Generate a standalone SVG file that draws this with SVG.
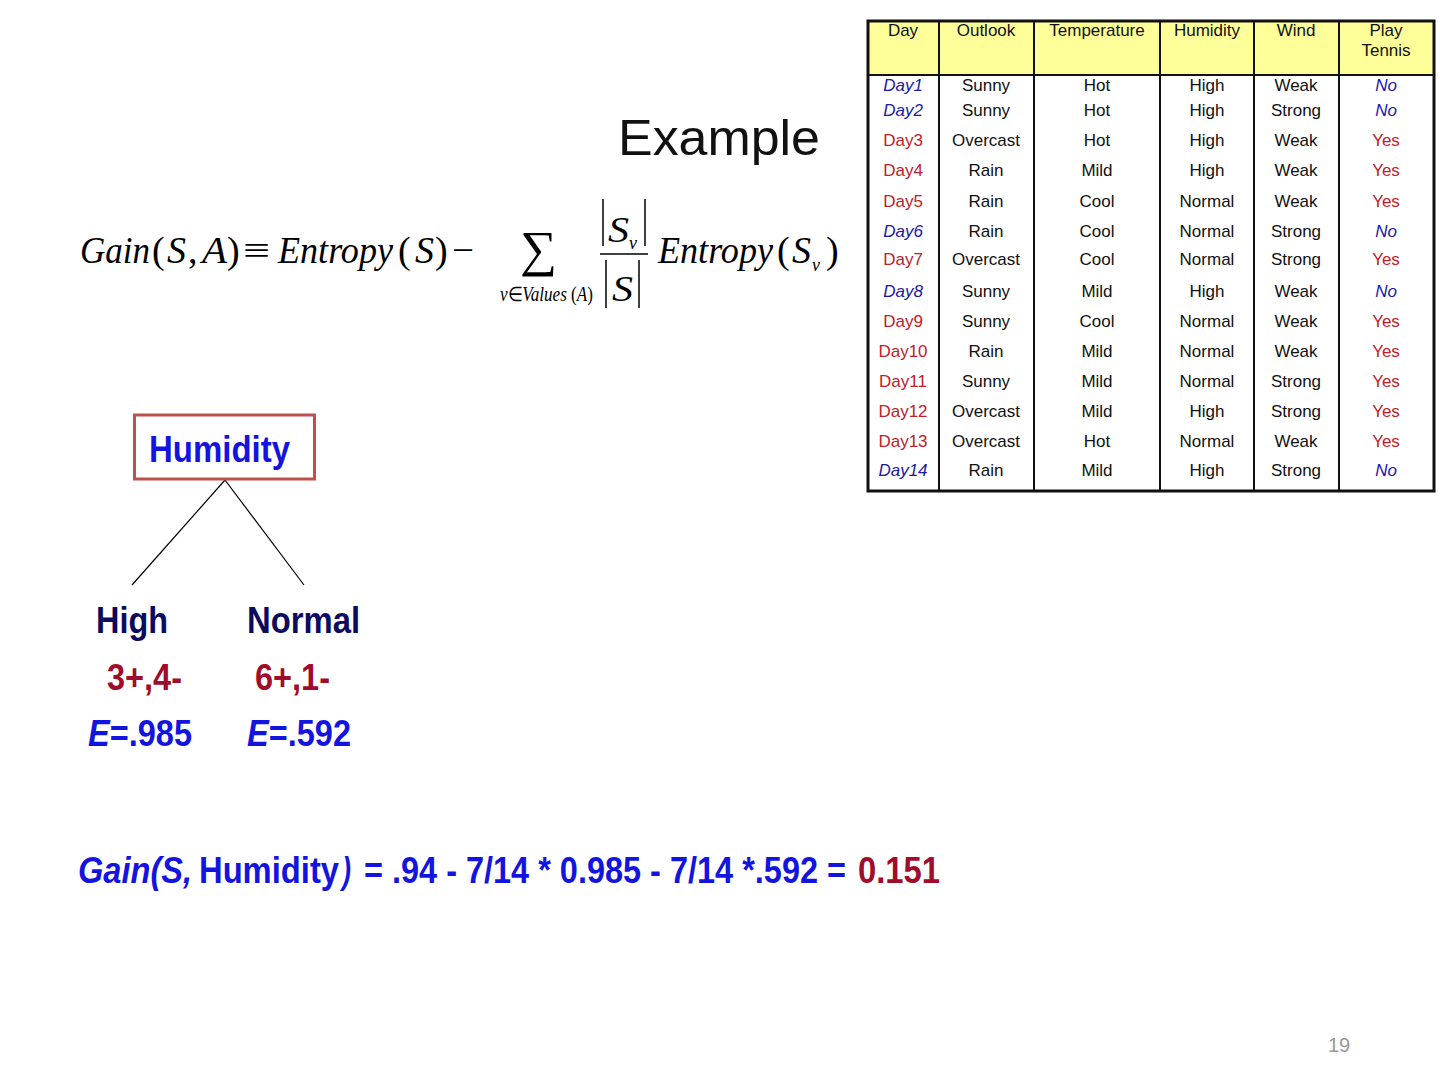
<svg xmlns="http://www.w3.org/2000/svg" width="1440" height="1080" viewBox="0 0 1440 1080">
<style>
.t{font-family:"Liberation Sans",Arial,sans-serif;font-size:17px;fill:#111;text-anchor:middle}
.r{fill:#c0202a}
.b{fill:#1a1aa8;font-style:italic}
.m{font-family:"Liberation Serif","Times New Roman",serif;fill:#000}
.i{font-style:italic}
.tr{font-family:"Liberation Sans",Arial,sans-serif;font-weight:bold}
.grid{stroke:#111;stroke-width:2;fill:none}
.bar{stroke:#000;stroke-width:1.5}
</style>
<rect width="1440" height="1080" fill="#fff"/>
<g id="title"><text x="618" y="155" font-family="Liberation Sans,Arial,sans-serif" font-size="50" fill="#111" textLength="202" lengthAdjust="spacingAndGlyphs">Example</text></g>

<g id="table">
<rect x="868" y="21" width="566" height="54" fill="#ffff99"/>
<rect x="868" y="21" width="566" height="470" fill="none" stroke="#111" stroke-width="3"/>
<g class="grid">
<line x1="868" y1="75" x2="1434" y2="75"/>
<line x1="939" y1="21" x2="939" y2="491"/>
<line x1="1034" y1="21" x2="1034" y2="491"/>
<line x1="1160" y1="21" x2="1160" y2="491"/>
<line x1="1254" y1="21" x2="1254" y2="491"/>
<line x1="1339" y1="21" x2="1339" y2="491"/>
</g>
<g class="t">
<text x="903" y="36">Day</text><text x="986" y="36">Outlook</text><text x="1097" y="36">Temperature</text><text x="1207" y="36">Humidity</text><text x="1296" y="36">Wind</text><text x="1386" y="36">Play</text><text x="1386" y="56">Tennis</text>
<text x="903" y="91" class="b">Day1</text><text x="986" y="91">Sunny</text><text x="1097" y="91">Hot</text><text x="1207" y="91">High</text><text x="1296" y="91">Weak</text><text x="1386" y="91" class="b">No</text>
<text x="903" y="116" class="b">Day2</text><text x="986" y="116">Sunny</text><text x="1097" y="116">Hot</text><text x="1207" y="116">High</text><text x="1296" y="116">Strong</text><text x="1386" y="116" class="b">No</text>
<text x="903" y="146" class="r">Day3</text><text x="986" y="146">Overcast</text><text x="1097" y="146">Hot</text><text x="1207" y="146">High</text><text x="1296" y="146">Weak</text><text x="1386" y="146" class="r">Yes</text>
<text x="903" y="176" class="r">Day4</text><text x="986" y="176">Rain</text><text x="1097" y="176">Mild</text><text x="1207" y="176">High</text><text x="1296" y="176">Weak</text><text x="1386" y="176" class="r">Yes</text>
<text x="903" y="207" class="r">Day5</text><text x="986" y="207">Rain</text><text x="1097" y="207">Cool</text><text x="1207" y="207">Normal</text><text x="1296" y="207">Weak</text><text x="1386" y="207" class="r">Yes</text>
<text x="903" y="237" class="b">Day6</text><text x="986" y="237">Rain</text><text x="1097" y="237">Cool</text><text x="1207" y="237">Normal</text><text x="1296" y="237">Strong</text><text x="1386" y="237" class="b">No</text>
<text x="903" y="265" class="r">Day7</text><text x="986" y="265">Overcast</text><text x="1097" y="265">Cool</text><text x="1207" y="265">Normal</text><text x="1296" y="265">Strong</text><text x="1386" y="265" class="r">Yes</text>
<text x="903" y="297" class="b">Day8</text><text x="986" y="297">Sunny</text><text x="1097" y="297">Mild</text><text x="1207" y="297">High</text><text x="1296" y="297">Weak</text><text x="1386" y="297" class="b">No</text>
<text x="903" y="327" class="r">Day9</text><text x="986" y="327">Sunny</text><text x="1097" y="327">Cool</text><text x="1207" y="327">Normal</text><text x="1296" y="327">Weak</text><text x="1386" y="327" class="r">Yes</text>
<text x="903" y="357" class="r">Day10</text><text x="986" y="357">Rain</text><text x="1097" y="357">Mild</text><text x="1207" y="357">Normal</text><text x="1296" y="357">Weak</text><text x="1386" y="357" class="r">Yes</text>
<text x="903" y="387" class="r">Day11</text><text x="986" y="387">Sunny</text><text x="1097" y="387">Mild</text><text x="1207" y="387">Normal</text><text x="1296" y="387">Strong</text><text x="1386" y="387" class="r">Yes</text>
<text x="903" y="417" class="r">Day12</text><text x="986" y="417">Overcast</text><text x="1097" y="417">Mild</text><text x="1207" y="417">High</text><text x="1296" y="417">Strong</text><text x="1386" y="417" class="r">Yes</text>
<text x="903" y="447" class="r">Day13</text><text x="986" y="447">Overcast</text><text x="1097" y="447">Hot</text><text x="1207" y="447">Normal</text><text x="1296" y="447">Weak</text><text x="1386" y="447" class="r">Yes</text>
<text x="903" y="476" class="b">Day14</text><text x="986" y="476">Rain</text><text x="1097" y="476">Mild</text><text x="1207" y="476">High</text><text x="1296" y="476">Strong</text><text x="1386" y="476" class="b">No</text>
</g>
</g>

<g id="formula" class="m" font-size="38">
<text x="80" y="263" class="i" textLength="70" lengthAdjust="spacingAndGlyphs">Gain</text>
<text x="152" y="263">(</text>
<text x="167" y="263" class="i" textLength="19" lengthAdjust="spacingAndGlyphs">S</text>
<text x="188" y="263">,</text>
<text x="202" y="263" class="i" textLength="25" lengthAdjust="spacingAndGlyphs">A</text>
<text x="227" y="263">)</text>
<text x="243" y="263" textLength="27" lengthAdjust="spacingAndGlyphs">≡</text>
<text x="278" y="263" class="i" textLength="115" lengthAdjust="spacingAndGlyphs">Entropy</text>
<text x="398" y="263">(</text>
<text x="415" y="263" class="i" textLength="19" lengthAdjust="spacingAndGlyphs">S</text>
<text x="435" y="263">)</text>
<text x="452" y="263" textLength="22" lengthAdjust="spacingAndGlyphs">−</text>
<text x="520" y="266" font-size="50" textLength="37" lengthAdjust="spacingAndGlyphs">∑</text>
<text x="500" y="301" font-size="20" textLength="93" lengthAdjust="spacingAndGlyphs"><tspan class="i">v</tspan>∈<tspan class="i">Values</tspan> (<tspan class="i">A</tspan>)</text>
<line class="bar" x1="603" y1="199" x2="603" y2="246"/>
<line class="bar" x1="645" y1="199" x2="645" y2="246"/>
<text x="608" y="242" font-size="36" class="i" textLength="21" lengthAdjust="spacingAndGlyphs">S</text>
<text x="629" y="249" font-size="18" class="i">v</text>
<line class="bar" x1="600" y1="254" x2="648" y2="254"/>
<line class="bar" x1="606" y1="260" x2="606" y2="308"/>
<line class="bar" x1="639" y1="260" x2="639" y2="308"/>
<text x="612" y="301" font-size="36" class="i" textLength="21" lengthAdjust="spacingAndGlyphs">S</text>
<text x="658" y="263" class="i" textLength="115" lengthAdjust="spacingAndGlyphs">Entropy</text>
<text x="777" y="263">(</text>
<text x="792" y="263" class="i" textLength="19" lengthAdjust="spacingAndGlyphs">S</text>
<text x="812" y="271" font-size="18" class="i">v</text>
<text x="826" y="263">)</text>
</g>

<g id="connectors" stroke="#000" stroke-width="1.2">
<line x1="225" y1="480" x2="132" y2="585"/>
<line x1="225" y1="480" x2="304" y2="585"/>
</g>

<g id="node-humidity">
<rect x="134.5" y="415" width="180" height="64" fill="#fff" stroke="#c0504d" stroke-width="3"/>
<text x="149" y="462" class="tr" font-size="36" fill="#1414e0" textLength="141" lengthAdjust="spacingAndGlyphs">Humidity</text>
</g>
<g id="node-high" class="tr" font-size="37">
<text x="96" y="633" fill="#0c0c5e" textLength="72" lengthAdjust="spacingAndGlyphs">High</text>
<text x="107" y="690" fill="#a00c2a" textLength="75" lengthAdjust="spacingAndGlyphs">3+,4-</text>
<text x="88" y="746" fill="#1414e0" textLength="104" lengthAdjust="spacingAndGlyphs"><tspan font-style="italic">E</tspan>=.985</text>
</g>
<g id="node-normal" class="tr" font-size="37">
<text x="247" y="633" fill="#0c0c5e" textLength="113" lengthAdjust="spacingAndGlyphs">Normal</text>
<text x="255" y="690" fill="#a00c2a" textLength="75" lengthAdjust="spacingAndGlyphs">6+,1-</text>
<text x="247" y="746" fill="#1414e0" textLength="104" lengthAdjust="spacingAndGlyphs"><tspan font-style="italic">E</tspan>=.592</text>
</g>

<g id="gain" class="tr" font-size="36" fill="#1414e0">
<text x="78" y="883" font-style="italic" textLength="114" lengthAdjust="spacingAndGlyphs">Gain(S,</text>
<text x="199" y="883" textLength="140" lengthAdjust="spacingAndGlyphs">Humidity</text>
<text x="342" y="883" font-style="italic" textLength="9" lengthAdjust="spacingAndGlyphs">)</text>
<text x="364" y="883" textLength="482" lengthAdjust="spacingAndGlyphs">= .94 - 7/14 * 0.985 - 7/14 *.592 =</text>
<text x="858" y="883" fill="#a00c2a" textLength="82" lengthAdjust="spacingAndGlyphs">0.151</text>
</g>

<text x="1339" y="1052" font-family="Liberation Sans,Arial,sans-serif" font-size="20" fill="#999" text-anchor="middle">19</text>
</svg>
